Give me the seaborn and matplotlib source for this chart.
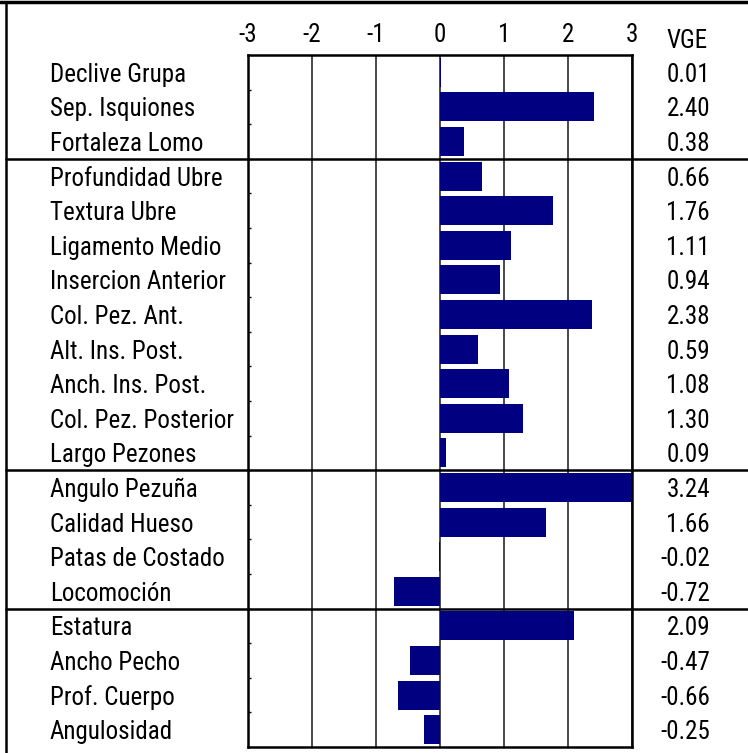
import matplotlib
matplotlib.use("Agg")
import matplotlib.pyplot as plt
from matplotlib import font_manager
from matplotlib.lines import Line2D
from matplotlib.transforms import blended_transform_factory
import seaborn as sns
import pandas as pd

traits = ["Declive Grupa", "Sep. Isquiones", "Fortaleza Lomo",
          "Profundidad Ubre", "Textura Ubre", "Ligamento Medio", "Insercion Anterior",
          "Col. Pez. Ant.", "Alt. Ins. Post.", "Anch. Ins. Post.", "Col. Pez. Posterior",
          "Largo Pezones",
          "Angulo Pezuña", "Calidad Hueso", "Patas de Costado", "Locomoción",
          "Estatura", "Ancho Pecho", "Prof. Cuerpo", "Angulosidad"]
vge = [0.01, 2.40, 0.38,
       0.66, 1.76, 1.11, 0.94, 2.38, 0.59, 1.08, 1.30, 0.09,
       3.24, 1.66, -0.02, -0.72,
       2.09, -0.47, -0.66, -0.25]
group_sizes = [3, 9, 4, 4]
x_ticks = [-3, -2, -1, 0, 1, 2, 3]
x_tick_labels = ["-3", "-2", "-1", "0", "1", "2", "3"]
header = "VGE"

sns.set_theme(style="white")
available = {f.name for f in font_manager.fontManager.ttflist}
narrow = [f for f in ["Liberation Sans Narrow", "Arial Narrow", "Roboto Condensed",
                      "Noto Sans Condensed", "Open Sans Condensed"] if f in available]
if narrow:
    plt.rcParams["font.family"] = [narrow[0], "DejaVu Sans"]
    fs = 18
else:
    plt.rcParams["font.family"] = ["Liberation Sans", "DejaVu Sans"]
    fs = 15.5

W, H = 748, 753
fig = plt.figure(figsize=(W / 100, H / 100), dpi=100)
fig.patch.set_facecolor("white")
ax = fig.add_axes([248 / W, 1 - 747 / H, (632 - 248) / W, (747 - 55) / H])

df = pd.DataFrame({"trait": traits, "vge": vge})
sns.barplot(data=df, x="vge", y="trait", orient="h", color="#000080",
            saturation=1, width=0.84, ax=ax, linewidth=0)

ax.set_xlim(-3, 3)
ax.set_ylim(len(traits) - 0.5, -0.5)
ax.set_xticks(x_ticks)
ax.set_xticklabels(x_tick_labels)
ax.xaxis.tick_top()
ax.tick_params(axis="x", length=0, pad=6, labelsize=fs, colors="black")
ax.set_xlabel("")
ax.set_ylabel("")
# tiny inward ticks on the left spine at row boundaries
ax.set_yticks([i + 0.5 for i in range(len(traits) - 1)])
ax.set_yticklabels([])
ax.tick_params(axis="y", direction="in", length=2, width=1, color="black", left=True)
ax.set_axisbelow(True)
ax.grid(axis="x", color="#3a3a3a", linewidth=1.3)
ax.grid(axis="y", visible=False)
for sp in ax.spines.values():
    sp.set_visible(True)
    sp.set_color("black")
    sp.set_linewidth(1.8)

trans = blended_transform_factory(fig.transFigure, ax.transData)
for i, (t, v) in enumerate(zip(traits, vge)):
    ax.text(50 / W, i, t, transform=trans, ha="left", va="center_baseline",
            fontsize=fs, color="black", clip_on=False)
    ax.text(710 / W, i, f"{v:.2f}", transform=trans, ha="right", va="center_baseline",
            fontsize=fs, color="black", clip_on=False)

fig.text(708 / W, 1 - 38 / H, header, ha="right", va="center_baseline",
         fontsize=fs, color="black")

# group separators
cum = 0
for g in group_sizes[:-1]:
    cum += g
    ax.add_line(Line2D([6 / W, 1], [cum - 0.5, cum - 0.5], transform=trans,
                       color="black", linewidth=1.8, clip_on=False))

fig.add_artist(Line2D([0, 1], [1 - 2 / H, 1 - 2 / H], transform=fig.transFigure,
                      color="black", linewidth=2.5))
fig.add_artist(Line2D([6 / W, 6 / W], [0, 1 - 2 / H], transform=fig.transFigure,
                      color="black", linewidth=1.8))

fig.savefig("out.png", dpi=100, facecolor="white")
